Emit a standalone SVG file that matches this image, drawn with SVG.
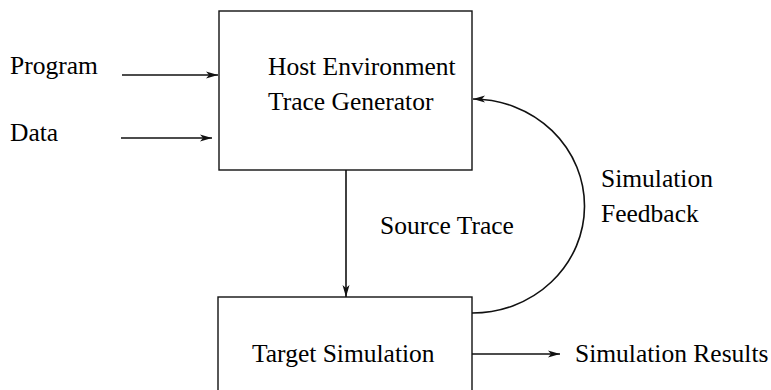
<svg xmlns="http://www.w3.org/2000/svg" width="771" height="390" viewBox="0 0 771 390">
<style>
text{font-family:"Liberation Serif","Times New Roman",serif;font-size:25.5px;fill:#000}
.box{fill:none;stroke:#111;stroke-width:1.4}
.ln{fill:none;stroke:#111;stroke-width:1.6}
</style>
<defs>
<marker id="ah" markerWidth="13" markerHeight="9" refX="12" refY="4.5" orient="auto" markerUnits="userSpaceOnUse">
<path d="M0,1 L12,4.5 L0,8 L3,4.5 Z" fill="#111"/>
</marker>
</defs>
<rect width="771" height="390" fill="#fff"/>
<g id="program"><text x="10" y="74">Program</text></g>
<g id="data"><text x="10" y="141">Data</text></g>
<g id="host">
<rect class="box" x="219" y="11" width="253" height="159"/>
<text x="268" y="75">Host Environment</text>
<text x="268" y="110">Trace Generator</text>
</g>
<g id="target">
<rect class="box" x="218" y="297" width="254" height="110"/>
<text x="252" y="362">Target Simulation</text>
</g>
<g id="results"><text x="575" y="362">Simulation Results</text></g>
<g id="connectors">
<line class="ln" x1="122" y1="75" x2="218" y2="75" marker-end="url(#ah)"/>
<line class="ln" x1="121" y1="138" x2="212" y2="138" marker-end="url(#ah)"/>
<line class="ln" x1="346" y1="170" x2="346" y2="297" marker-end="url(#ah)"/>
<path class="ln" d="M472,313 A112,107 0 0 0 473,99" marker-end="url(#ah)"/>
<line class="ln" x1="472" y1="354" x2="560" y2="354" marker-end="url(#ah)"/>
<text x="380" y="234">Source Trace</text>
<text x="601" y="187">Simulation</text>
<text x="601" y="222">Feedback</text>
</g>
</svg>
